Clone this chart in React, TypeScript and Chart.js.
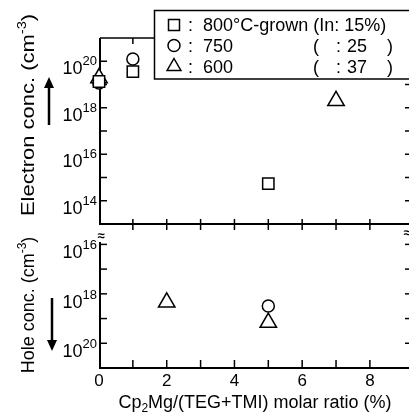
import React, { useEffect, useRef } from "react";
import { Chart, registerables } from "chart.js";

Chart.register(...registerables);

const FONT = '"Liberation Sans", Arial, Helvetica, sans-serif';

// ---- Data ----
// Top panel: electron concentration (cm^-3)
const elecX800 = [0, 1, 5];
const elecY800 = [1.35e19, 3.6e19, 5.5e14];
const elecX750 = [0, 1];
const elecY750 = [1.15e19, 1.25e20];
const elecX600 = [0, 7];
const elecY600 = [1.9e19, 2.0e18];

// Bottom panel: hole concentration (cm^-3)
const holeX750 = [5];
const holeY750 = [3.1e18];
const holeX600 = [2, 5];
const holeY600 = [2.2e18, 1.45e19];

// Axes
const xMin = 0;
const xMax = 8.83;
const xLabelValues = [0, 2, 4, 6, 8];
const xTickValues = [1, 2, 3, 4, 5, 6, 7, 8];
const elecMin = 1e13;
const elecMax = 1e21;
const elecTickExp = [14, 15, 16, 17, 18, 19, 20];
const elecLabelExp = [14, 16, 18, 20];
const holeMin = 8e15;
const holeMax = 1e21;
const holeTickExp = [16, 17, 18, 19, 20];
const holeLabelExp = [16, 18, 20];

// Legend texts
const legendNames = ["800°C-grown (In: 15%)", "750", "600"];
const legendIn = ["", "25", "37"];

const W = 409;
const H = 417;

function pts(xs: number[], ys: number[]) {
  return xs.map((x, i) => ({ x, y: ys[i] }));
}

function seg(ctx: CanvasRenderingContext2D, x1: number, y1: number, x2: number, y2: number) {
  ctx.beginPath();
  ctx.moveTo(x1, y1);
  ctx.lineTo(x2, y2);
  ctx.stroke();
}

function drawPow(ctx: CanvasRenderingContext2D, rightX: number, tickY: number, exp: number, baseOff: number, supOff: number) {
  ctx.font = `18px ${FONT}`;
  const bw = ctx.measureText("10").width;
  ctx.font = `13px ${FONT}`;
  const sw = ctx.measureText(String(exp)).width;
  ctx.textAlign = "left";
  ctx.textBaseline = "alphabetic";
  ctx.fillStyle = "#000";
  ctx.font = `18px ${FONT}`;
  ctx.fillText("10", rightX - sw - bw, tickY + baseOff);
  ctx.font = `13px ${FONT}`;
  ctx.fillText(String(exp), rightX - sw, tickY + supOff);
}

function drawRotTitle(ctx: CanvasRenderingContext2D, cx: number, cy: number, main: string, sup: string, tail: string, size: number, stretch: number) {
  ctx.save();
  ctx.translate(cx, cy);
  ctx.rotate(-Math.PI / 2);
  ctx.scale(stretch, 1);
  ctx.fillStyle = "#000";
  ctx.textAlign = "left";
  ctx.textBaseline = "alphabetic";
  const mf = `${size}px ${FONT}`;
  const sf = `${Math.round(size * 0.68)}px ${FONT}`;
  ctx.font = mf;
  const w1 = ctx.measureText(main).width;
  const w3 = ctx.measureText(tail).width;
  ctx.font = sf;
  const w2 = ctx.measureText(sup).width;
  let xx = -(w1 + w2 + w3) / 2;
  ctx.font = mf;
  ctx.fillText(main, xx, 0);
  xx += w1;
  ctx.font = sf;
  ctx.fillText(sup, xx, -size * 0.42);
  xx += w2;
  ctx.font = mf;
  ctx.fillText(tail, xx, 0);
  ctx.restore();
}

function drawArrow(ctx: CanvasRenderingContext2D, x: number, yFrom: number, yTip: number) {
  const dir = yTip < yFrom ? -1 : 1;
  const headLen = 11;
  ctx.save();
  ctx.strokeStyle = "#000";
  ctx.fillStyle = "#000";
  ctx.lineWidth = 2.5;
  seg(ctx, x, yFrom, x, yTip - dir * headLen + dir * 1);
  ctx.beginPath();
  ctx.moveTo(x, yTip);
  ctx.lineTo(x - 5, yTip - dir * headLen);
  ctx.lineTo(x + 5, yTip - dir * headLen);
  ctx.closePath();
  ctx.fill();
  ctx.restore();
}

function legendSymbol(ctx: CanvasRenderingContext2D, kind: string, x: number, y: number) {
  ctx.save();
  ctx.strokeStyle = "#000";
  ctx.fillStyle = "#fff";
  ctx.lineWidth = 1.5;
  ctx.beginPath();
  if (kind === "rect") {
    ctx.rect(x - 5.5, y - 5.5, 11, 11);
  } else if (kind === "circle") {
    ctx.arc(x, y, 6, 0, Math.PI * 2);
  } else {
    const r = 8;
    ctx.moveTo(x, y - r);
    ctx.lineTo(x + r * 0.866, y + r / 2);
    ctx.lineTo(x - r * 0.866, y + r / 2);
    ctx.closePath();
  }
  ctx.fill();
  ctx.stroke();
  ctx.restore();
}

const markerBase = {
  showLine: false,
  pointBackgroundColor: "#fff",
  pointBorderColor: "#000",
  pointBorderWidth: 1.5,
  pointHoverRadius: 8,
  clip: false as any,
};

const topPlugin = {
  id: "topDeco",
  beforeDatasetsDraw(chart: any) {
    const { ctx, chartArea: a, scales } = chart;
    const X = (v: number) => scales.x.getPixelForValue(v);
    const Y = (e: number) => scales.y.getPixelForValue(Math.pow(10, e));
    const x0 = X(0) + 1;
    ctx.save();
    ctx.strokeStyle = "#000";
    ctx.lineWidth = 2;
    seg(ctx, x0, a.top, x0, a.bottom + 1);
    ctx.lineWidth = 1.5;
    seg(ctx, x0, a.top, W, a.top);
    ctx.lineWidth = 2;
    seg(ctx, x0 - 1, a.bottom, W, a.bottom);
    ctx.lineWidth = 1.5;
    elecTickExp.forEach((e) => {
      seg(ctx, x0, Y(e), x0 + 7, Y(e));
      seg(ctx, W - 4, Y(e), W, Y(e));
    });
    xTickValues.forEach((v) => {
      seg(ctx, X(v), a.top, X(v), a.top + 6);
      seg(ctx, X(v), a.bottom - 5, X(v), a.bottom + 6);
    });
    elecLabelExp.forEach((e) => drawPow(ctx, x0 - 3, Y(e), e, 13, 4));
    drawRotTitle(ctx, 33.5, 115, "Electron conc. (cm", "-3", ")", 18, 1.22);
    drawArrow(ctx, 49, 125, 77);
    ctx.restore();
  },
  afterDatasetsDraw(chart: any) {
    const { ctx } = chart;
    ctx.save();
    ctx.fillStyle = "#fff";
    ctx.fillRect(154, 10, W - 154 + 5, 69);
    ctx.strokeStyle = "#000";
    ctx.lineWidth = 1.5;
    ctx.strokeRect(154.5, 10.5, W - 154 + 10, 68.5);
    const rows = [31, 52, 73];
    const centers = [25, 45.5, 66.5];
    const kinds = ["rect", "circle", "tri"];
    ctx.fillStyle = "#000";
    ctx.font = `18px ${FONT}`;
    ctx.textBaseline = "alphabetic";
    ctx.textAlign = "left";
    rows.forEach((b, i) => {
      legendSymbol(ctx, kinds[i], 174, centers[i]);
      ctx.fillStyle = "#000";
      ctx.font = `18px ${FONT}`;
      ctx.fillText(":", 188, b);
      ctx.fillText(legendNames[i], 203, b);
      if (legendIn[i]) {
        ctx.fillText("(", 313, b);
        ctx.fillText(":", 336, b);
        ctx.fillText(legendIn[i], 347, b);
        ctx.fillText(")", 387, b);
      }
    });
    ctx.restore();
  },
};

const botPlugin = {
  id: "botDeco",
  beforeDatasetsDraw(chart: any) {
    const { ctx, chartArea: a, scales } = chart;
    const X = (v: number) => scales.x.getPixelForValue(v);
    const Y = (e: number) => scales.y.getPixelForValue(Math.pow(10, e));
    const x0 = X(0) + 1;
    ctx.save();
    ctx.strokeStyle = "#000";
    ctx.lineWidth = 2;
    seg(ctx, x0, a.top, x0, a.bottom + 1);
    seg(ctx, x0 - 1, a.bottom, W, a.bottom);
    ctx.lineWidth = 1.5;
    holeTickExp.forEach((e) => {
      seg(ctx, x0, Y(e), x0 + 7, Y(e));
      seg(ctx, W - 4, Y(e), W, Y(e));
    });
    xTickValues.forEach((v) => {
      seg(ctx, X(v), a.bottom - 8, X(v), a.bottom);
    });
    // break marks
    ctx.fillStyle = "#000";
    ctx.font = `bold 13px ${FONT}`;
    ctx.textAlign = "center";
    ctx.textBaseline = "middle";
    ctx.fillText("≈", x0 + 1, a.top - 6);
    ctx.fillText("≈", W - 2, a.top - 9);
    holeLabelExp.forEach((e) => drawPow(ctx, x0 - 3, Y(e), e, 14, 5));
    // x tick labels
    ctx.font = `17px ${FONT}`;
    ctx.textAlign = "center";
    ctx.textBaseline = "alphabetic";
    xLabelValues.forEach((v) => ctx.fillText(String(v), X(v), 386));
    // x title
    const p1 = "Cp";
    const p2 = "2";
    const p3 = "Mg/(TEG+TMI) molar ratio (%)";
    ctx.font = `18px ${FONT}`;
    const w1 = ctx.measureText(p1).width;
    const w3 = ctx.measureText(p3).width;
    ctx.font = `12px ${FONT}`;
    const w2 = ctx.measureText(p2).width;
    let xx = 255 - (w1 + w2 + w3) / 2;
    ctx.textAlign = "left";
    ctx.font = `18px ${FONT}`;
    ctx.fillText(p1, xx, 408);
    xx += w1;
    ctx.font = `12px ${FONT}`;
    ctx.fillText(p2, xx, 412);
    xx += w2;
    ctx.font = `18px ${FONT}`;
    ctx.fillText(p3, xx, 408);
    drawRotTitle(ctx, 33.5, 305, "Hole conc. (cm", "-3", ")", 18, 1);
    drawArrow(ctx, 52, 298, 351);
    ctx.restore();
  },
};

function baseOptions(padTop: number, padBottom: number, yMin: number, yMax: number, reverse: boolean) {
  return {
    responsive: false,
    animation: false as const,
    events: [] as any[],
    layout: { padding: { left: 99, right: 1, top: padTop, bottom: padBottom } },
    plugins: { legend: { display: false }, tooltip: { enabled: false }, title: { display: false } },
    scales: {
      x: { type: "linear" as const, min: xMin, max: xMax, display: false },
      y: { type: "logarithmic" as const, min: yMin, max: yMax, reverse, display: false },
    },
  };
}

export default function App() {
  const topRef = useRef<HTMLCanvasElement>(null);
  const botRef = useRef<HTMLCanvasElement>(null);

  useEffect(() => {
    const top = new Chart(topRef.current as HTMLCanvasElement, {
      type: "scatter",
      data: {
        datasets: [
          { ...markerBase, label: "800", data: pts(elecX800, elecY800), pointStyle: "rect", pointRadius: 8 },
          { ...markerBase, label: "600", data: pts(elecX600, elecY600), pointStyle: "triangle", pointRadius: 9.5 },
          { ...markerBase, label: "750", data: pts(elecX750, elecY750), pointStyle: "circle", pointRadius: 6 },
        ],
      },
      options: baseOptions(38, H - 224, elecMin, elecMax, false) as any,
      plugins: [topPlugin],
    });
    const bot = new Chart(botRef.current as HTMLCanvasElement, {
      type: "scatter",
      data: {
        datasets: [
          { ...markerBase, label: "750", data: pts(holeX750, holeY750), pointStyle: "circle", pointRadius: 6 },
          { ...markerBase, label: "600", data: pts(holeX600, holeY600), pointStyle: "triangle", pointRadius: 9.5 },
        ],
      },
      options: baseOptions(242, H - 368, holeMin, holeMax, true) as any,
      plugins: [botPlugin],
    });
    return () => {
      top.destroy();
      bot.destroy();
    };
  }, []);

  return (
    <div style={{ position: "fixed", left: 0, top: 0, width: W, height: H, background: "#fff" }}>
      <canvas ref={topRef} width={W} height={H} style={{ position: "absolute", left: 0, top: 0 }} />
      <canvas ref={botRef} width={W} height={H} style={{ position: "absolute", left: 0, top: 0 }} />
    </div>
  );
}
